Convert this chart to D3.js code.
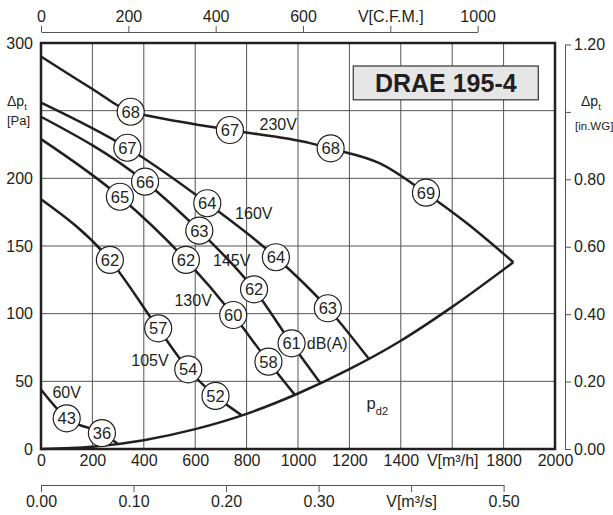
<!DOCTYPE html>
<html>
<head>
<meta charset="utf-8">
<script src="https://cdn.jsdelivr.net/npm/d3@7"></script>
<style>
  body { margin: 0; background: #fff; }
  svg text { font-family: "Liberation Sans", Arial, sans-serif; fill: #231f20; }
</style>
</head>
<body>
<script>
// axis ticks
const flowTicks = [0, 200, 400, 600, 800, 1000, 1200, 1400, 1600, 1800, 2000];
const paTicks = [0, 50, 100, 150, 200, 250, 300];
const cfmTicks = [0, 200, 400, 600, 800, 1000];
const m3sTicks = [0, 0.1, 0.2, 0.3, 0.4, 0.5];
const inwgTicks = [0, 0.2, 0.4, 0.6, 0.8, 1.0, 1.2];

// fan curves [V m3/h, dp Pa]
const curve230V = [[0, 290], [200, 266], [349, 249], [411, 246.5], [735, 235.7], [1047, 226], [1127, 222], [1319, 211], [1498, 189], [1656, 167], [1838, 138]];
const curve160V = [[0, 256], [336, 222.6], [647, 181.6], [914, 141.7], [1116, 104], [1274, 67]];
const curve145V = [[0, 245.5], [405, 197.5], [616, 161.3], [829, 118], [975, 78], [1086, 49]];
const curve130V = [[0, 229], [307, 186.4], [564, 139.7], [748, 99], [885, 64.5], [988, 40]];
const curve105V = [[0, 184.5], [268, 139.7], [456, 89.2], [573, 58.9], [679, 39.2], [781, 25]];
const curve60V = [[0, 44], [100, 22.7], [237, 11.8], [300, 3.7]];
const curvePd2 = [[0, 0], [200, 1.6], [400, 6.5], [600, 14.7], [800, 26], [1000, 41], [1200, 59], [1400, 80], [1600, 105], [1838, 138]];

// sound levels dB(A) on the curves [V, dp, dB]
const dba230V = [[349, 249.2, 68], [735, 235.7, 67], [1127, 222.2, 68], [1498, 189.4, 69]];
const dba160V = [[336, 222.6, 67], [647, 181.6, 64], [914, 141.7, 64], [1116, 104, 63]];
const dba145V = [[405, 197.5, 66], [616, 161.3, 63], [829, 118, 62], [975, 78.1, 61]];
const dba130V = [[307, 186.4, 65], [564, 139.7, 62], [748, 99, 60], [885, 64.5, 58]];
const dba105V = [[268, 139.7, 62], [456, 89.2, 57], [573, 58.9, 54], [679, 39.2, 52]];
const dba60V = [[100, 22.7, 43], [237, 11.8, 36]];

const voltNames = ['230V', '160V', '145V', '130V', '105V', '60V'];
const voltLabelAt = [[923, 240], [828, 174], [742, 139], [592, 109.4], [424, 65.7], [100, 42.1]];

const W = 613, H = 515;
const svg = d3.select('body').append('svg').attr('width', W).attr('height', H);

const x = d3.scaleLinear().domain([0, 2000]).range([41, 555]);
const y = d3.scaleLinear().domain([0, 300]).range([449, 43]);
const xCfm = d3.scaleLinear().domain([0, 1000]).range([x(0), x(1000 * 1.699)]);
const xM3s = d3.scaleLinear().domain([0, 0.5]).range([x(0), x(0.5 * 3600)]);
const yIn = d3.scaleLinear().domain([0, 1.2]).range([y(0), y(1.2 * 249.09)]);

const ink = '#231f20';

// grid
svg.append('g').selectAll('line').data(flowTicks.slice(1, -1)).join('line')
  .attr('x1', d => x(d)).attr('x2', d => x(d))
  .attr('y1', y(0)).attr('y2', y(300))
  .attr('stroke', '#555').attr('stroke-width', 1);
svg.append('g').selectAll('line').data(paTicks.slice(1, -1)).join('line')
  .attr('y1', d => y(d)).attr('y2', d => y(d))
  .attr('x1', x(0)).attr('x2', x(2000))
  .attr('stroke', '#555').attr('stroke-width', 1);

// title box
svg.append('rect')
  .attr('x', x(1215)).attr('y', y(283))
  .attr('width', x(1935) - x(1215)).attr('height', y(258) - y(283))
  .attr('fill', '#e6e6e6').attr('stroke', '#333').attr('stroke-width', 1.2);
svg.append('text')
  .attr('x', (x(1215) + x(1935)) / 2).attr('y', (y(283) + y(258)) / 2)
  .attr('text-anchor', 'middle').attr('dominant-baseline', 'central')
  .style('font-size', '25px').style('font-weight', 'bold')
  .text('DRAE 195-4');

// curves
const line = d3.line().x(d => x(d[0])).y(d => y(d[1])).curve(d3.curveMonotoneX);
const curves = [curve230V, curve160V, curve145V, curve130V, curve105V, curve60V, curvePd2];
svg.append('g').selectAll('path').data(curves).join('path')
  .attr('d', line)
  .attr('fill', 'none').attr('stroke', ink).attr('stroke-width', 2.5)
  .attr('stroke-linejoin', 'miter');

// frame
svg.append('rect')
  .attr('x', x(0)).attr('y', y(300))
  .attr('width', x(2000) - x(0)).attr('height', y(0) - y(300))
  .attr('fill', 'none').attr('stroke', ink).attr('stroke-width', 2.5);

// dB(A) circles
const dbaAll = [].concat(dba230V, dba160V, dba145V, dba130V, dba105V, dba60V);
const marks = svg.append('g').selectAll('g').data(dbaAll).join('g')
  .attr('transform', d => `translate(${x(d[0])},${y(d[1])})`);
marks.append('circle').attr('r', 13.5)
  .attr('fill', '#fff').attr('stroke', ink).attr('stroke-width', 1.2);
marks.append('text')
  .attr('text-anchor', 'middle').attr('dominant-baseline', 'central')
  .style('font-size', '16.5px')
  .text(d => d[2]);

// voltage labels
svg.append('g').selectAll('text').data(voltNames).join('text')
  .attr('x', (d, i) => x(voltLabelAt[i][0]))
  .attr('y', (d, i) => y(voltLabelAt[i][1]))
  .attr('text-anchor', 'middle').attr('dominant-baseline', 'central')
  .style('font-size', '16px')
  .text(d => d);

svg.append('text')
  .attr('x', x(1034)).attr('y', y(77.6))
  .attr('dominant-baseline', 'central')
  .style('font-size', '16px')
  .text('dB(A)');

const pd2 = svg.append('text').attr('x', x(1267)).attr('y', y(29.6)).style('font-size', '16.5px');
pd2.append('tspan').text('p');
pd2.append('tspan').attr('dy', 6).style('font-size', '11px').text('d2');

// bottom flow axis (labels only)
const axB = svg.append('g').attr('transform', `translate(0,${y(0)})`)
  .call(d3.axisBottom(x).tickValues(flowTicks).tickSize(0).tickPadding(6)
    .tickFormat(d => d === 1600 ? 'V[m³/h]' : d));
axB.select('.domain').remove();

// left pressure axis (labels only)
const axL = svg.append('g').attr('transform', `translate(${x(0)},0)`)
  .call(d3.axisLeft(y).tickValues(paTicks).tickSize(0).tickPadding(8)
    .tickFormat(d => d === 250 ? '' : d));
axL.select('.domain').remove();

// top CFM axis
svg.append('g').attr('transform', 'translate(0,32)')
  .call(d3.axisTop(xCfm).tickValues(cfmTicks).tickSize(6).tickSizeOuter(0).tickPadding(4)
    .tickFormat(d => d === 800 ? 'V[C.F.M.]' : d));

// m3/s axis
svg.append('g').attr('transform', 'translate(0,485)')
  .call(d3.axisBottom(xM3s).tickValues(m3sTicks).tickSize(7).tickSizeOuter(0).tickPadding(4)
    .tickFormat(d => Math.abs(d - 0.4) < 1e-9 ? 'V[m³/s]' : d3.format('.2f')(d)));

// right in.WG axis
svg.append('g').attr('transform', 'translate(565,0)')
  .call(d3.axisRight(yIn).tickValues(inwgTicks).tickSize(6).tickSizeOuter(0).tickPadding(3)
    .tickFormat(d => Math.abs(d - 1) < 1e-9 ? '' : d3.format('.2f')(d)));

svg.selectAll('.tick text').style('font-size', '16px').attr('fill', ink);
svg.selectAll('.tick line, .domain').attr('stroke', '#555').attr('stroke-width', 1);

// axis unit labels
const lp = svg.append('text').attr('x', 7).attr('y', 106).style('font-size', '14px');
lp.append('tspan').text('Δp');
lp.append('tspan').attr('dy', 4).style('font-size', '9.5px').text('t');
svg.append('text').attr('x', 7).attr('y', 125).style('font-size', '13px').text('[Pa]');

const rp = svg.append('text').attr('x', 581).attr('y', 106).style('font-size', '14px');
rp.append('tspan').text('Δp');
rp.append('tspan').attr('dy', 4).style('font-size', '9.5px').text('t');
svg.append('text').attr('x', 575).attr('y', 130).style('font-size', '11.5px').text('[in.WG]');
</script>
</body>
</html>
